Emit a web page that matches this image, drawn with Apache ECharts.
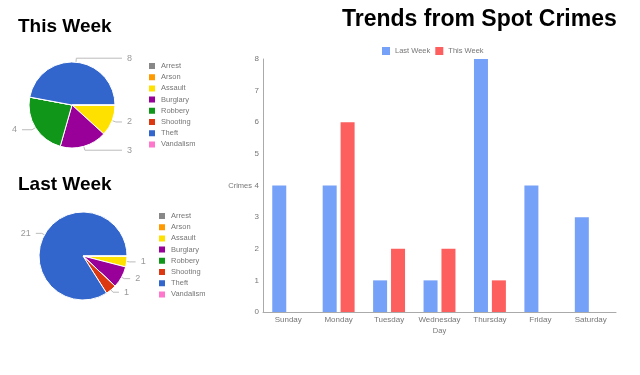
<!DOCTYPE html>
<html>
<head>
<meta charset="utf-8">
<script src="https://cdn.jsdelivr.net/npm/echarts@6/dist/echarts.min.js"></script>
<style>
  html, body { margin: 0; padding: 0; background: #fff; }
  #chart { width: 640px; height: 375px; }
</style>
</head>
<body>
<div id="chart"></div>
<script>
// crime types (pie legends)
var crimeTypes = ['Arrest', 'Arson', 'Assault', 'Burglary', 'Robbery', 'Shooting', 'Theft', 'Vandalism'];
var crimeColors = ['#888888', '#ff9900', '#ffe100', '#990099', '#109618', '#dc3912', '#3366cc', '#ff77cc'];
var thisWeekByType = [0, 0, 2, 3, 4, 0, 8, 0];
var lastWeekByType = [0, 0, 1, 2, 0, 1, 21, 0];

// bar chart
var days = ['Sunday', 'Monday', 'Tuesday', 'Wednesday', 'Thursday', 'Friday', 'Saturday'];
var lastWeekByDay = [4, 4, 1, 1, 8, 4, 3];
var thisWeekByDay = [0, 6, 2, 2, 1, 0, 0];

var chart = echarts.init(document.getElementById('chart'));

function pieData(values) {
    return crimeTypes.map(function (name, i) {
        var item = { name: name, value: values[i], itemStyle: { color: crimeColors[i] } };
        if (values[i] === 0) {
            item.label = { show: false };
            item.labelLine = { show: false };
        }
        return item;
    });
}

var labelFont = 'Arial, Liberation Sans';
var legendText = { color: '#777', fontSize: 7.5, fontFamily: labelFont };
var titleFont = 'Arial, Liberation Sans';

var option = {
    animation: false,
    title: [{
        text: 'This Week', left: 13, top: 12,
        textStyle: { fontSize: 19, fontWeight: 'bold', color: '#000', fontFamily: titleFont }
    }, {
        text: 'Last Week', left: 13, top: 170,
        textStyle: { fontSize: 19, fontWeight: 'bold', color: '#000', fontFamily: titleFont }
    }, {
        text: 'Trends from Spot Crimes', left: 337, top: 3,
        textStyle: { fontSize: 23, fontWeight: 'bold', color: '#000', fontFamily: titleFont }
    }],
    legend: [{
        orient: 'vertical', left: 142, top: 56,
        itemWidth: 8, itemHeight: 8, itemGap: 1.2, icon: 'rect',
        textStyle: legendText,
        data: crimeTypes
    }, {
        orient: 'vertical', left: 152, top: 206,
        itemWidth: 8, itemHeight: 8, itemGap: 1.2, icon: 'rect',
        textStyle: legendText,
        data: crimeTypes
    }, {
        left: 377, top: 42,
        itemWidth: 8, itemHeight: 8, itemGap: 5, icon: 'rect',
        textStyle: legendText,
        data: ['Last Week', 'This Week']
    }],
    grid: { left: 263, right: 24, top: 59, bottom: 63 },
    xAxis: {
        type: 'category',
        data: days,
        name: 'Day',
        nameLocation: 'middle',
        nameGap: 15,
        nameMoveOverlap: false,
        nameTextStyle: { color: '#777', fontSize: 7.5, fontFamily: labelFont },
        axisLine: { lineStyle: { color: '#aaa' } },
        axisTick: { show: false },
        axisLabel: { color: '#777', fontSize: 8, interval: 0, margin: 4, fontFamily: labelFont }
    },
    yAxis: {
        type: 'value',
        min: 0, max: 8, interval: 1,
        name: 'Crimes',
        nameLocation: 'middle',
        nameRotate: 0,
        nameGap: 11,
        nameMoveOverlap: false,
        nameTextStyle: { color: '#777', fontSize: 7.5, align: 'right', fontFamily: labelFont },
        axisLine: { show: true, lineStyle: { color: '#aaa' } },
        axisTick: { show: false },
        splitLine: { show: false },
        axisLabel: { color: '#777', fontSize: 8, margin: 4, fontFamily: labelFont }
    },
    series: [{
        type: 'pie',
        name: 'pieThisWeek',
        left: 12, top: 0, width: 120, height: 375,
        center: [60, 105],
        radius: 43,
        startAngle: 0,
        clockwise: true,
        label: { color: '#999', fontSize: 9, fontFamily: labelFont, formatter: '{c}', alignTo: 'edge', edgeDistance: 0 },
        labelLine: { length: 4, length2: 6, lineStyle: { color: '#bbb', width: 1 } },
        itemStyle: { borderColor: '#fff', borderWidth: 1 },
        data: pieData(thisWeekByType)
    }, {
        type: 'pie',
        name: 'pieLastWeek',
        center: [83, 256],
        radius: 44,
        startAngle: 0,
        clockwise: true,
        label: { color: '#999', fontSize: 9, fontFamily: labelFont, formatter: '{c}' },
        labelLine: { length: 3, length2: 6, lineStyle: { color: '#bbb', width: 1 } },
        itemStyle: { borderColor: '#fff', borderWidth: 1 },
        data: pieData(lastWeekByType)
    }, {
        type: 'bar',
        name: 'Last Week',
        data: lastWeekByDay,
        barWidth: 14,
        barGap: '28%',
        itemStyle: { color: '#76a1f8' }
    }, {
        type: 'bar',
        name: 'This Week',
        data: thisWeekByDay,
        barWidth: 14,
        itemStyle: { color: '#fd5e5e' }
    }]
};

chart.setOption(option);
</script>
</body>
</html>
